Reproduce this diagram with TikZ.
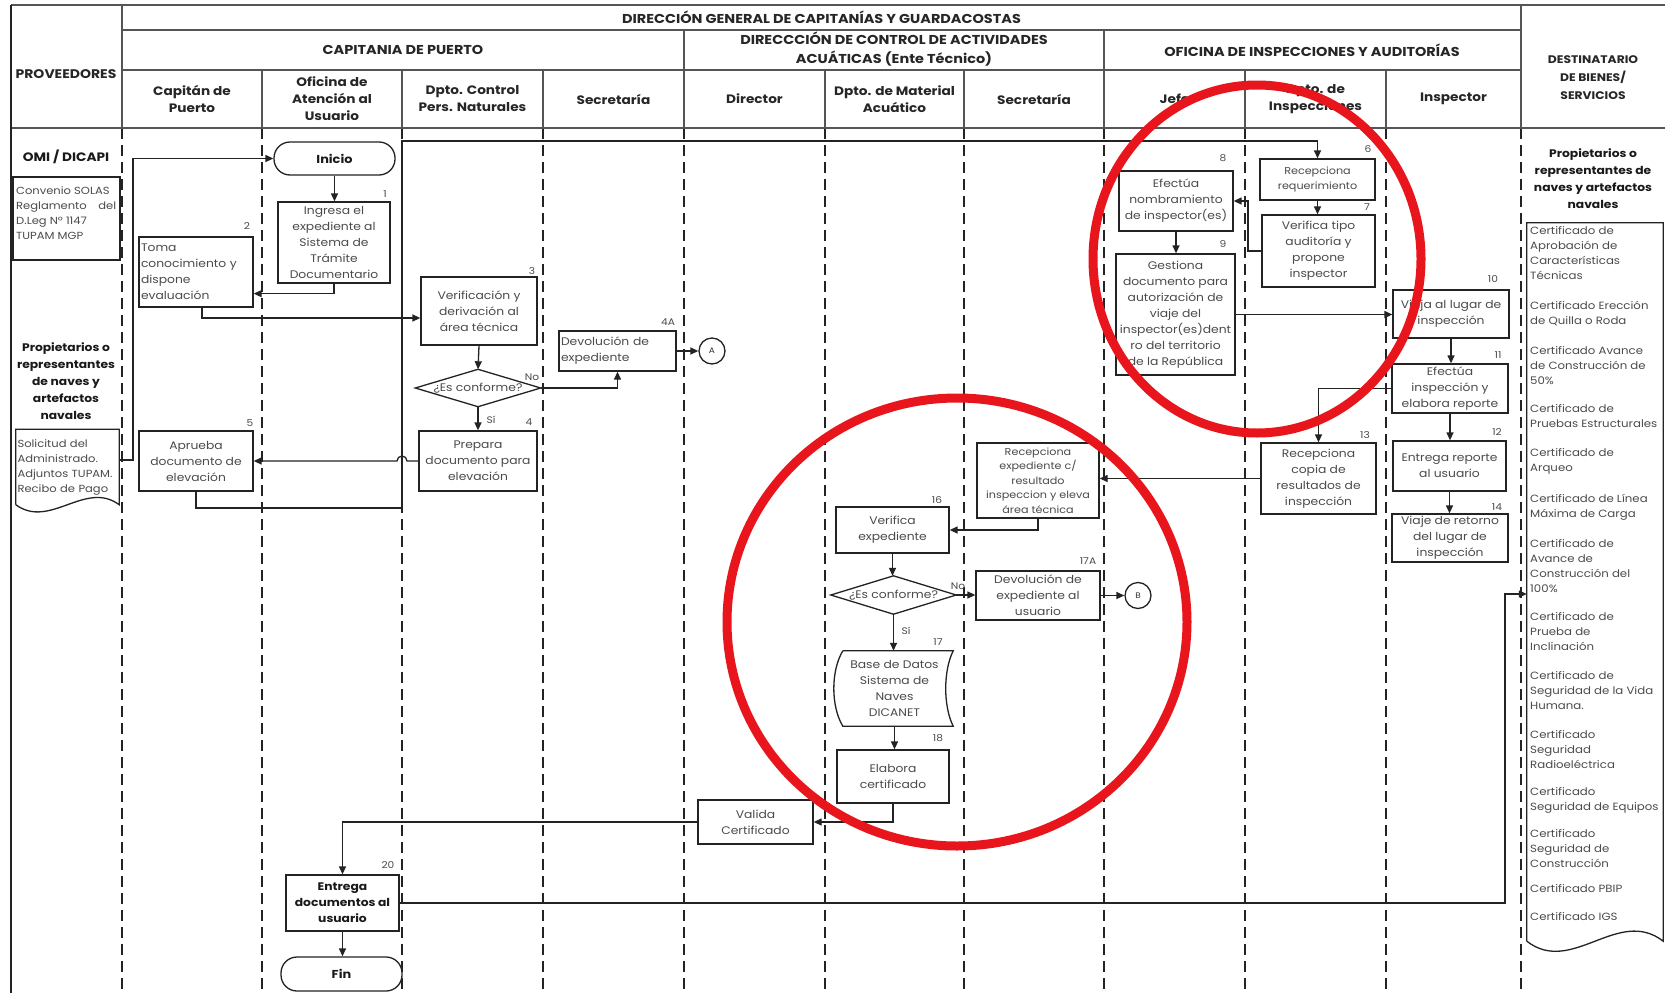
\documentclass[tikz,border=0pt]{standalone}
\usepackage{fontspec}
\setmainfont{Poppins}[FakeStretch=1.12]
\usetikzlibrary{arrows.meta}
\definecolor{ink}{RGB}{35,35,35}
\definecolor{txt}{RGB}{75,75,75}
\definecolor{rule}{RGB}{85,85,85}
\definecolor{hilite}{RGB}{232,22,28}
\tikzset{
  every node/.style={inner sep=0pt},
  gridline/.style={draw=rule, line width=1.6pt},
  laneline/.style={draw=ink, line width=1.8pt, dash pattern=on 11pt off 6pt},
  box/.style={draw=ink, line width=1.3pt, fill=white, align=center, text=txt,
              font=\fontsize{11}{16}\selectfont},
  smallbox/.style={box, font=\fontsize{10}{14.5}\selectfont},
  bbox/.style={box, text=black!90, font=\bfseries\fontsize{11}{16}\selectfont},
  cond/.style={align=center, text=txt, font=\fontsize{11}{14}\selectfont},
  term/.style={draw=ink, line width=1.3pt, fill=white, rounded corners=16pt,
               text=black!90, font=\bfseries\fontsize{11.5}{14}\selectfont},
  conn/.style={circle, draw=ink, line width=1.3pt, fill=white, minimum size=26pt,
               text=black!80, font=\fontsize{8}{8}\selectfont},
  num/.style={text=txt, font=\fontsize{9.5}{10}\selectfont},
  hdr/.style={align=center, text=black!85, font=\bfseries\fontsize{12.9}{19}\selectfont},
  colhdr/.style={align=center, text=black!85, font=\bfseries\fontsize{12.2}{17}\selectfont},
  side/.style={align=center, text=black!90, font=\bfseries\fontsize{11}{17}\selectfont},
  list/.style={align=left, anchor=north west, text=txt, font=\fontsize{10.5}{15}\selectfont},
  arr/.style={draw=ink, line width=1.3pt, -{Triangle[length=8pt,width=7pt]}},
  link/.style={draw=ink, line width=1.3pt},
  ring/.style={draw=hilite, line width=9pt},
}
\begin{document}
\begin{tikzpicture}[x=1pt, y=-1pt]
\useasboundingbox (0,0) rectangle (1665,993);
\fill[white] (0,0) rectangle (1665,993);

% ---------- swimlane separators ----------
\foreach \lx in {122,262,402,543,684,825,964,1104,1245,1386,1521}
  \draw[laneline] (\lx,128) -- (\lx,993);

% ---------- header grid ----------
\draw[gridline] (11,5) -- (1665,5);
\draw[gridline] (122,30) -- (1521,30);
\draw[gridline] (122,70) -- (1521,70);
\draw[gridline] (11,128) -- (1665,128);
\draw[draw=ink, line width=1.6pt] (11,5) -- (11,993);
\draw[gridline] (122,5) -- (122,128);
\draw[gridline] (1521,5) -- (1521,128);
\draw[gridline] (684,30) -- (684,128);
\draw[gridline] (1104,30) -- (1104,128);
\foreach \lx in {262,402,543,825,964,1245,1386}
  \draw[gridline] (\lx,70) -- (\lx,128);

% ---------- header texts ----------
\node[hdr] (h0) at (821.5,17) {DIRECCIÓN GENERAL DE CAPITANÍAS Y GUARDACOSTAS};
\node[hdr] (h1) at (403,50) {CAPITANIA DE PUERTO};
\node[hdr] (h2) at (894,49) {DIRECCCIÓN DE CONTROL DE ACTIVIDADES\\ACUÁTICAS (Ente Técnico)};
\node[hdr] (h3) at (1312,50) {OFICINA DE INSPECCIONES Y AUDITORÍAS};
\node[colhdr, font=\bfseries\fontsize{12.5}{17}\selectfont] (pv) at (66,74) {PROVEEDORES};
\node[colhdr, font=\bfseries\fontsize{11}{18}\selectfont] (ds) at (1593,78) {DESTINATARIO\\DE BIENES/\\SERVICIOS};
\node[colhdr] (k1) at (192,99) {Capitán de\\Puerto};
\node[colhdr] (k2) at (332,99) {Oficina de\\Atención al\\Usuario};
\node[colhdr] (k3) at (472.5,99) {Dpto. Control\\Pers. Naturales};
\node[colhdr] (k4) at (613.5,99) {Secretaría};
\node[colhdr] (k5) at (754.5,99) {Director};
\node[colhdr] (k6) at (894.5,99) {Dpto. de Material\\Acuático};
\node[colhdr] (k7) at (1034,99) {Secretaría};
\node[colhdr] (k8) at (1174.5,99) {Jefe};
\node[colhdr] (k9) at (1315.5,99) {Dpto. de\\Inspecciones};
\node[colhdr] (k10) at (1453.5,99) {Inspector};

% ---------- suppliers lane ----------
\node[side, font=\bfseries\fontsize{12.2}{17}\selectfont] (omi) at (66,157) {OMI / DICAPI};
\node[draw=ink, line width=1.3pt, minimum width=107pt, minimum height=83pt] (conv) at (66.5,218.5) {};
\node[list, font=\fontsize{10.3}{15}\selectfont] (convt) at (16,186)
  {Convenio SOLAS\\\makebox[100pt][s]{Reglamento del}\\D.Leg Nº 1147\\TUPAM MGP};
\node[side] (prov) at (66,381) {Propietarios o\\representantes\\de naves y\\artefactos\\navales};
\node[align=left, text=txt, font=\fontsize{10.3}{15}\selectfont, text width=100pt,
      minimum width=103pt, minimum height=75pt] (sol) at (67.5,467)
  {Solicitud del\\Administrado.\\Adjuntos TUPAM.\\Recibo de Pago};
\draw[link] (sol.south west) -- (sol.north west) -- (sol.north east) -- (sol.south east)
  .. controls ([xshift=-34pt,yshift=25pt]sol.south east) and ([xshift=34pt,yshift=-25pt]sol.south west) .. (sol.south west);

% ---------- receivers lane ----------
\node[side] (dest) at (1593,179) {Propietarios o\\representantes de\\naves y artefactos\\navales};
\node[minimum width=136pt, minimum height=718pt] (cert) at (1595,582) {};
\draw[link] (cert.south west) -- (cert.north west) -- (cert.north east) -- (cert.south east)
  .. controls ([xshift=-45pt,yshift=35pt]cert.south east) and ([xshift=45pt,yshift=-35pt]cert.south west) .. (cert.south west);
\node[list] (c1) at (1530,226) {Certificado de\\Aprobación de\\Características\\Técnicas};
\node[list] (c2) at (1530,301) {Certificado Erección\\de Quilla o Roda};
\node[list] (c3) at (1530,346) {Certificado Avance\\de Construcción de\\50\%};
\node[list] (c4) at (1530,404) {Certificado de\\Pruebas Estructurales};
\node[list] (c5) at (1530,448) {Certificado de\\Arqueo};
\node[list] (c6) at (1530,494) {Certificado de Línea\\Máxima de Carga};
\node[list] (c7) at (1530,539) {Certificado de\\Avance de\\Construcción del\\100\%};
\node[list] (c8) at (1530,612) {Certificado de\\Prueba de\\Inclinación};
\node[list] (c9) at (1530,671) {Certificado de\\Seguridad de la Vida\\Humana.};
\node[list] (c10) at (1530,730) {Certificado\\Seguridad\\Radioeléctrica};
\node[list] (c11) at (1530,787) {Certificado\\Seguridad de Equipos};
\node[list] (c12) at (1530,829) {Certificado\\Seguridad de\\Construcción};
\node[list] (c13) at (1530,884) {Certificado PBIP};
\node[list] (c14) at (1530,912) {Certificado IGS};

% ---------- process steps ----------
\node[term, minimum width=121pt, minimum height=33pt] (inicio) at (334.5,158.5) {Inicio};
\node[box, minimum width=112pt, minimum height=81pt] (b1) at (334,242.5)
  {Ingresa el\\expediente al\\Sistema de\\Trámite\\Documentario};
\node[box, minimum height=70pt, text width=110pt, align=left, inner xsep=2pt] (b2) at (196,272)
  {Toma\\\makebox[110pt][s]{conocimiento y}\\dispone\\evaluación};
\node[box, minimum width=116pt, minimum height=68pt] (b3) at (479,311)
  {Verificación y\\derivación al\\área técnica};
\node[cond, minimum width=125pt, minimum height=37pt] (d1) at (478,388) {¿Es conforme?};
\draw[link] (d1.north) -- (d1.east) -- (d1.south) -- (d1.west) -- cycle;
\node[box, minimum height=40pt, text width=113pt, align=left, inner xsep=2pt] (b4A) at (617.5,351)
  {\makebox[113pt][s]{Devolución de}\\expediente};
\node[conn] (cA) at (712,351) {A};
\node[box, minimum width=118pt, minimum height=60pt] (b4) at (478,461)
  {Prepara\\documento para\\elevación};
\node[box, minimum width=114pt, minimum height=60pt] (b5) at (196,461)
  {Aprueba\\documento de\\elevación};
\node[smallbox, minimum width=115pt, minimum height=41pt] (b6) at (1317.5,179.5)
  {Recepciona\\requerimiento};
\node[box, minimum width=113pt, minimum height=72pt] (b7) at (1318.5,251)
  {Verifica tipo\\auditoría y\\propone\\inspector};
\node[box, minimum width=114pt, minimum height=60pt] (b8) at (1176,201)
  {Efectúa\\nombramiento\\de inspector(es)};
\node[box, minimum width=119pt, minimum height=121pt] (b9) at (1175.5,314.5)
  {Gestiona\\documento para\\autorización de\\viaje del\\inspector(es)dent\\ro del territorio\\de la República};
\node[box, minimum width=116pt, minimum height=48pt] (b10) at (1451,314)
  {Viaja al lugar de\\inspección};
\node[box, minimum width=116pt, minimum height=49pt] (b11) at (1450,388.5)
  {Efectúa\\inspección y\\elabora reporte};
\node[box, minimum width=113pt, minimum height=50pt] (b12) at (1449.5,466)
  {Entrega reporte\\al usuario};
\node[box, minimum width=115pt, minimum height=71pt] (b13) at (1318.5,478.5)
  {Recepciona\\copia de\\resultados de\\inspección};
\node[box, minimum width=116pt, minimum height=48pt] (b14) at (1450,538)
  {Viaje de retorno\\del lugar de\\inspección};
\node[smallbox, minimum width=122pt, minimum height=75pt] (b15) at (1038,480.5)
  {Recepciona\\expediente c/\\resultado\\inspeccion y eleva\\área técnica};
\node[box, minimum width=113pt, minimum height=46pt] (b16) at (892.5,530)
  {Verifica\\expediente};
\node[cond, minimum width=125pt, minimum height=38pt] (d2) at (893.5,595) {¿Es conforme?};
\draw[link] (d2.north) -- (d2.east) -- (d2.south) -- (d2.west) -- cycle;
\node[box, minimum width=124pt, minimum height=49pt] (b17A) at (1038,595.5)
  {Devolución de\\expediente al\\usuario};
\node[conn] (cB) at (1138,595.5) {B};
\node[cond, minimum width=117pt, minimum height=75pt, font=\fontsize{11}{16}\selectfont] (b17) at (894.5,688.5)
  {Base de Datos\\Sistema de\\Naves\\DICANET};
\draw[link] ([xshift=7pt]b17.north west) -- (b17.north east)
  .. controls ([xshift=-10pt,yshift=-20pt]b17.north east) and ([xshift=-10pt,yshift=20pt]b17.south east) .. (b17.south east)
  -- ([xshift=7pt]b17.south west)
  .. controls ([xshift=-5pt,yshift=20pt]b17.south west) and ([xshift=-5pt,yshift=-20pt]b17.north west) .. ([xshift=7pt]b17.north west);
\node[box, minimum width=112pt, minimum height=53pt] (b18) at (893,776.5)
  {Elabora\\certificado};
\node[box, minimum width=115pt, minimum height=44pt] (b19) at (755.5,822)
  {Valida\\Certificado};
\node[bbox, minimum width=113pt, minimum height=56pt] (b20) at (342.5,903)
  {Entrega\\documentos al\\usuario};
\node[term, minimum width=121pt, minimum height=34pt] (fin) at (341.5,974) {Fin};

% ---------- step numbers ----------
\node[num] (n1) at (385,194) {1};
\node[num] (n2) at (247,226) {2};
\node[num] (n3) at (532,271) {3};
\node[num] (n4A) at (668,322) {4A};
\node[num] (n4) at (529,422) {4};
\node[num] (n5) at (250,423) {5};
\node[num] (n6) at (1368,149) {6};
\node[num] (n7) at (1367,207) {7};
\node[num] (n8) at (1223,158) {8};
\node[num] (n9) at (1223,244) {9};
\node[num] (n10) at (1493,279) {10};
\node[num] (n11) at (1498,355) {11};
\node[num] (n12) at (1497,432) {12};
\node[num] (n13) at (1365,435) {13};
\node[num] (n14) at (1497,507) {14};
\node[num] (n16) at (937,500) {16};
\node[num] (n17A) at (1088,561) {17A};
\node[num] (n17) at (938,642) {17};
\node[num] (n18) at (938,738) {18};
\node[num] (n20) at (388,865) {20};
\node[num] (no1) at (532,377) {No};
\node[num] (si1) at (491,420) {Sí};
\node[num] (no2) at (958,586) {No};
\node[num] (si2) at (906,631) {Sí};

% ---------- connectors ----------
\draw[arr] ([yshift=7pt]sol.east) -- (133,460) |- (inicio.west);
\draw[arr] (inicio.south) -- (inicio.south |- b1.north);
\draw[arr] (b1.south) |- ([yshift=14pt]b2.south east);
\draw[arr] ([xshift=6pt]b2.south) |- ([yshift=-7pt]b3.west);
\draw[arr] (b3.south) -- (d1.north);
\draw[arr] (d1.east) -| (b4A.south);
\draw[arr] (b4A.east) -- (cA.west);
\draw[arr] (d1.south) -- (b4.north);
\draw[arr] (b4.west) -- (407,461) arc[start angle=0, end angle=180, radius=5pt] -- (b5.east);
\draw[arr] (b5.south) |- (402,508) -- (402,141) -| (b6.north);
\draw[arr] (b6.south) -- (b6.south |- b7.north);
\draw[arr] (b7.west) -- (1248,251) |- (b8.east);
\draw[arr] (b8.south) -- (b8.south |- b9.north);
\draw[arr] (b9.east) -- (b9.east -| b10.west);
\draw[arr] (b10.south) -- (b10.south |- b11.north);
\draw[arr] (b11.west) -| (b13.north);
\draw[arr] (b11.south) -- (b11.south |- b12.north);
\draw[arr] (b12.south) -- (b12.south |- b14.north);
\draw[arr] (b13.west) -- (b13.west -| b15.east);
\draw[arr] (b15.south) |- (b16.east);
\draw[arr] (b16.south) -- (b16.south |- d2.north);
\draw[arr] (d2.east) -- (d2.east -| b17A.west);
\draw[arr] (b17A.east) -- (cB.west);
\draw[arr] (d2.south) -- (d2.south |- b17.north);
\draw[arr] (b17.south) -- (b17.south |- b18.north);
\draw[arr] (b18.south) |- (b19.east);
\draw[arr] (b19.west) -| (b20.north);
\draw[arr] (b20.south) -- (b20.south |- fin.north);
\draw[arr] (b20.east) -- (1505,903) |- ([yshift=-12pt]cert.west);

% ---------- highlight rings ----------
\draw[ring] (1257,259) ellipse [x radius=164pt, y radius=174pt];
\draw[ring] (957,622) ellipse [x radius=230pt, y radius=224pt];
\end{tikzpicture}
\end{document}
